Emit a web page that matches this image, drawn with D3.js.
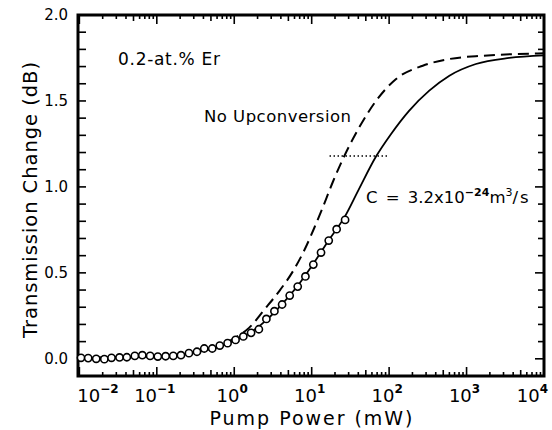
<!doctype html>
<html>
<head>
<meta charset="utf-8">
<style>
  body { margin: 0; background: #fff; }
  svg text { font-family: "DejaVu Sans", sans-serif; fill: #000; }
</style>
</head>
<body>
<svg width="552" height="430"></svg>
<script src="https://d3js.org/d3.v7.min.js"></script>
<script>
  // measured points (open circles)
  var pumpPower = [0.0105, 0.013, 0.0165, 0.021, 0.026, 0.033, 0.041, 0.052, 0.065, 0.082,
    0.103, 0.13, 0.163, 0.205, 0.26, 0.33, 0.41, 0.52, 0.65, 0.82,
    1.04, 1.31, 1.65, 2.08, 2.6, 3.3, 4.15, 5.2, 6.6, 8.3,
    10.5, 13.2, 16.6, 21, 27];
  var transChange = [0.006, 0.004, 0.0, -0.002, 0.006, 0.008, 0.009, 0.017, 0.021, 0.017,
    0.013, 0.015, 0.017, 0.021, 0.033, 0.041, 0.060, 0.060, 0.077, 0.091,
    0.110, 0.130, 0.151, 0.172, 0.232, 0.277, 0.316, 0.368, 0.420, 0.479,
    0.548, 0.618, 0.688, 0.754, 0.808];

  // fit with upconversion, C = 3.2e-24 m^3/s (solid)
  var fitPower = [0.0096, 0.03, 0.1, 0.3, 0.6, 1.0, 1.65, 2.6, 4.15, 6.6, 10.5, 16.6, 27, 40,
    68, 106, 182, 330, 600, 1320, 3560, 10000];
  var fitChange = [0.005, 0.009, 0.016, 0.036, 0.066, 0.105, 0.155, 0.225, 0.318, 0.425, 0.553,
    0.69, 0.83, 0.98, 1.178, 1.308, 1.444, 1.56, 1.647, 1.715, 1.75, 1.765];

  // no upconversion (dashed)
  var noUpPower = [0.0096, 0.03, 0.1, 0.3, 0.6, 0.88, 1.19, 1.55, 2.49, 3.9, 5.74, 8.2, 11.0,
    13.6, 18.8, 26.4, 41.2, 67.7, 123, 272, 600, 1620, 4350, 10000];
  var noUpChange = [0.005, 0.009, 0.016, 0.036, 0.068, 0.105, 0.14, 0.18, 0.29, 0.40, 0.51, 0.64,
    0.77, 0.87, 1.03, 1.18, 1.347, 1.50, 1.628, 1.705, 1.744, 1.763, 1.773, 1.777];

  // dotted reference level
  var refPower = [17, 100];
  var refLevel = 1.18;

  var xTickExps = [-2, -1, 0, 1, 2, 3, 4];
  var yTickLabels = [0.0, 0.5, 1.0, 1.5, 2.0];

  var svg = d3.select("svg");
  svg.append("rect").attr("width", 552).attr("height", 430).attr("fill", "#fff");

  var x = d3.scaleLog().domain([0.0096, 1e4]).range([78, 544]);
  var y = d3.scaleLinear().domain([-0.1, 2.0]).range([376, 15]);
  var x0 = x.range()[0], x1 = x.range()[1], y0 = y.range()[0], y1 = y.range()[1];

  // log ticks: 1..9 per decade
  var xTicks = [];
  for (var e = -3; e < 4; e++) {
    for (var k = 1; k < 10; k++) {
      var tv = k * Math.pow(10, e);
      if (tv >= x.domain()[0] && tv < 1e4) xTicks.push(tv);
    }
  }
  xTicks.push(1e4);
  var yTicks = d3.range(0, 21).map(function (i) { return i / 10; });

  function tickLen(d) {
    var mm = Math.round(d / Math.pow(10, Math.floor(Math.log10(d) + 1e-9)));
    if (mm === 1) return 9;
    if (mm === 5) return 6;
    return 4;
  }
  function isHalf(d) { return Math.abs(d * 2 - Math.round(d * 2)) < 1e-6; }

  var ticks = svg.append("g").attr("stroke", "#000").attr("stroke-width", 1.6);

  // bottom and top ticks
  ticks.selectAll("line.xb").data(xTicks).enter().append("line").attr("class", "xb")
    .attr("x1", function (d) { return x(d); }).attr("x2", function (d) { return x(d); })
    .attr("y1", y0).attr("y2", function (d) { return y0 - tickLen(d); });
  ticks.selectAll("line.xt").data(xTicks).enter().append("line").attr("class", "xt")
    .attr("x1", function (d) { return x(d); }).attr("x2", function (d) { return x(d); })
    .attr("y1", y1).attr("y2", function (d) { return y1 + tickLen(d); });

  // left and right ticks
  ticks.selectAll("line.yl").data(yTicks).enter().append("line").attr("class", "yl")
    .attr("x1", x0).attr("x2", x0 + 8)
    .attr("y1", function (d) { return y(d); }).attr("y2", function (d) { return y(d); });
  ticks.selectAll("line.yr").data(yTicks).enter().append("line").attr("class", "yr")
    .attr("x1", x1).attr("x2", function (d) { return x1 - (isHalf(d) ? 9 : 6); })
    .attr("y1", function (d) { return y(d); }).attr("y2", function (d) { return y(d); });

  // frame
  svg.append("path")
    .attr("d", "M" + x0 + "," + y1 + "H" + x1 + "V" + y0 + "H" + x0 + "Z")
    .attr("fill", "none").attr("stroke", "#000").attr("stroke-width", 3);

  // y labels
  svg.append("g").selectAll("text").data(yTickLabels).enter().append("text")
    .attr("x", x0 - 10).attr("y", function (d) { return y(d); }).attr("dy", "0.36em")
    .attr("text-anchor", "end").style("font-size", "15px")
    .text(function (d) { return d3.format(".1f")(d); });

  // x decade labels with superscripts
  var xl = svg.append("g").selectAll("text").data(xTickExps).enter().append("text")
    .attr("x", function (d, i) {
      if (i === 0) return x(Math.pow(10, d)) - 2;
      if (i === xTickExps.length - 1) return x(Math.pow(10, d)) + 4;
      return x(Math.pow(10, d)) - 2;
    })
    .attr("y", 402)
    .attr("text-anchor", function (d, i) {
      return i === 0 ? "start" : (i === xTickExps.length - 1 ? "end" : "middle");
    });
  xl.append("tspan").style("font-size", "18px").text("10");
  xl.append("tspan").style("font-size", "12px").style("font-weight", "bold").attr("dy", -9)
    .text(function (d) { return d < 0 ? "\u2212" + (-d) : d; });

  // curves
  var curve = d3.line()
    .x(function (d) { return x(d[0]); })
    .y(function (d) { return y(d[1]); })
    .curve(d3.curveMonotoneX);

  svg.append("path")
    .datum(noUpPower.map(function (p, i) { return [p, noUpChange[i]]; }))
    .attr("d", curve).attr("fill", "none").attr("stroke", "#000")
    .attr("stroke-width", 2).attr("stroke-dasharray", "11,6");

  svg.append("path")
    .datum(fitPower.map(function (p, i) { return [p, fitChange[i]]; }))
    .attr("d", curve).attr("fill", "none").attr("stroke", "#000").attr("stroke-width", 1.8);

  svg.append("path")
    .datum(refPower.map(function (p) { return [p, refLevel]; }))
    .attr("d", curve).attr("fill", "none").attr("stroke", "#000")
    .attr("stroke-width", 1.6).attr("stroke-dasharray", "1.5,2.5");

  svg.append("g").selectAll("circle")
    .data(pumpPower.map(function (p, i) { return [p, transChange[i]]; }))
    .enter().append("circle")
    .attr("cx", function (d) { return x(d[0]); })
    .attr("cy", function (d) { return y(d[1]); })
    .attr("r", 3.6)
    .attr("fill", "#fff").attr("stroke", "#000").attr("stroke-width", 1.6);

  // annotations
  svg.append("text").attr("x", 118).attr("y", 65).style("font-size", "17px")
    .attr("textLength", 102).attr("lengthAdjust", "spacing").text("0.2-at.% Er");

  svg.append("text").attr("x", 204).attr("y", 122).style("font-size", "16.5px")
    .attr("textLength", 147).attr("lengthAdjust", "spacing").text("No Upconversion");

  var ct = svg.append("text").attr("x", 366).attr("y", 203).style("font-size", "16.5px");
  ct.append("tspan").style("word-spacing", "3px").text("C = 3.2x10");
  ct.append("tspan").attr("dy", -7).style("font-size", "11px").style("font-weight", "bold").text("\u221224");
  ct.append("tspan").attr("dy", 7).text("m");
  ct.append("tspan").attr("dy", -7).style("font-size", "11px").text("3");
  ct.append("tspan").attr("dy", 7).style("letter-spacing", "2px").text("/s");

  // axis titles
  svg.append("text").attr("x", 311).attr("y", 425).attr("text-anchor", "middle")
    .style("font-size", "19px").attr("textLength", 203).attr("lengthAdjust", "spacing")
    .text("Pump Power (mW)");

  svg.append("text").attr("transform", "translate(36.5,200) rotate(-90)")
    .attr("text-anchor", "middle").style("font-size", "19.5px")
    .attr("textLength", 276).attr("lengthAdjust", "spacing")
    .text("Transmission Change (dB)");
</script>
</body>
</html>
